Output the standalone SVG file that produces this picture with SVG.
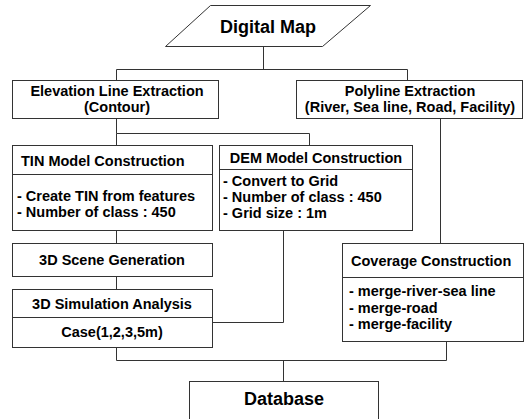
<svg xmlns="http://www.w3.org/2000/svg" width="525" height="419" viewBox="0 0 525 419">
<style>
.box{fill:#fff;stroke:#333;stroke-width:1}
.ln{fill:none;stroke:#333;stroke-width:1}
text{font-family:'Liberation Sans',Arial,sans-serif;font-weight:bold;fill:#000;font-size:14.5px}
.c{text-anchor:middle}
.big{font-size:18px}
</style>
<rect width="525" height="419" fill="#fff"/>
<g id="connectors">
<path class="ln" d="M263.5,46V69.5M116.5,69.5H407.5M116.5,69.5V80M407.5,69.5V80"/>
<path class="ln" d="M116.5,118V133.5H309.5V145M116.5,133.5V145"/>
<path class="ln" d="M116.5,230V243M116.5,276V289"/>
<path class="ln" d="M283.5,230V322.5H212"/>
<path class="ln" d="M440.5,118V243"/>
<path class="ln" d="M116.5,347V360.5H446.5V341M283.5,360.5V381"/>
</g>
<g id="digital-map">
<polygon class="box" points="210.5,5.5 370.5,5.5 322.5,46.5 165.5,46.5"/>
<text class="c big" x="268" y="33">Digital Map</text>
</g>
<g id="elevation">
<rect class="box" x="12.5" y="80.5" width="206" height="38"/>
<text class="c" x="117" y="96">Elevation Line Extraction</text>
<text class="c" x="117" y="112">(Contour)</text>
</g>
<g id="polyline">
<rect class="box" x="296.5" y="80.5" width="226" height="38"/>
<text class="c" x="410" y="96">Polyline Extraction</text>
<text class="c" x="410" y="112">(River, Sea line, Road, Facility)</text>
</g>
<g id="tin">
<rect class="box" x="12.5" y="145.5" width="200" height="85"/>
<line class="ln" x1="12.5" y1="174.5" x2="212.5" y2="174.5"/>
<text x="21" y="166">TIN Model Construction</text>
<text x="17" y="201">- Create TIN from features</text>
<text x="17" y="217">- Number of class : 450</text>
</g>
<g id="dem">
<rect class="box" x="219.5" y="145.5" width="193" height="85"/>
<line class="ln" x1="219.5" y1="169.5" x2="412.5" y2="169.5"/>
<text class="c" x="316" y="163">DEM Model Construction</text>
<text x="223" y="186">- Convert to Grid</text>
<text x="223" y="202">- Number of class : 450</text>
<text x="223" y="218">- Grid size : 1m</text>
</g>
<g id="scene">
<rect class="box" x="12.5" y="243.5" width="200" height="33"/>
<text class="c" x="112" y="265">3D Scene Generation</text>
</g>
<g id="simulation">
<rect class="box" x="12.5" y="289.5" width="200" height="58"/>
<line class="ln" x1="12.5" y1="317.5" x2="212.5" y2="317.5"/>
<text class="c" x="112" y="309">3D Simulation Analysis</text>
<text class="c" x="112" y="337">Case(1,2,3,5m)</text>
</g>
<g id="coverage">
<rect class="box" x="342.5" y="243.5" width="181" height="98"/>
<line class="ln" x1="342.5" y1="277.5" x2="523.5" y2="277.5"/>
<text x="351" y="266">Coverage Construction</text>
<text x="349" y="296">- merge-river-sea line</text>
<text x="349" y="313">- merge-road</text>
<text x="349" y="329">- merge-facility</text>
</g>
<g id="database">
<rect class="box" x="189.5" y="381.5" width="189" height="50"/>
<text class="c big" x="284" y="405">Database</text>
</g>
</svg>
